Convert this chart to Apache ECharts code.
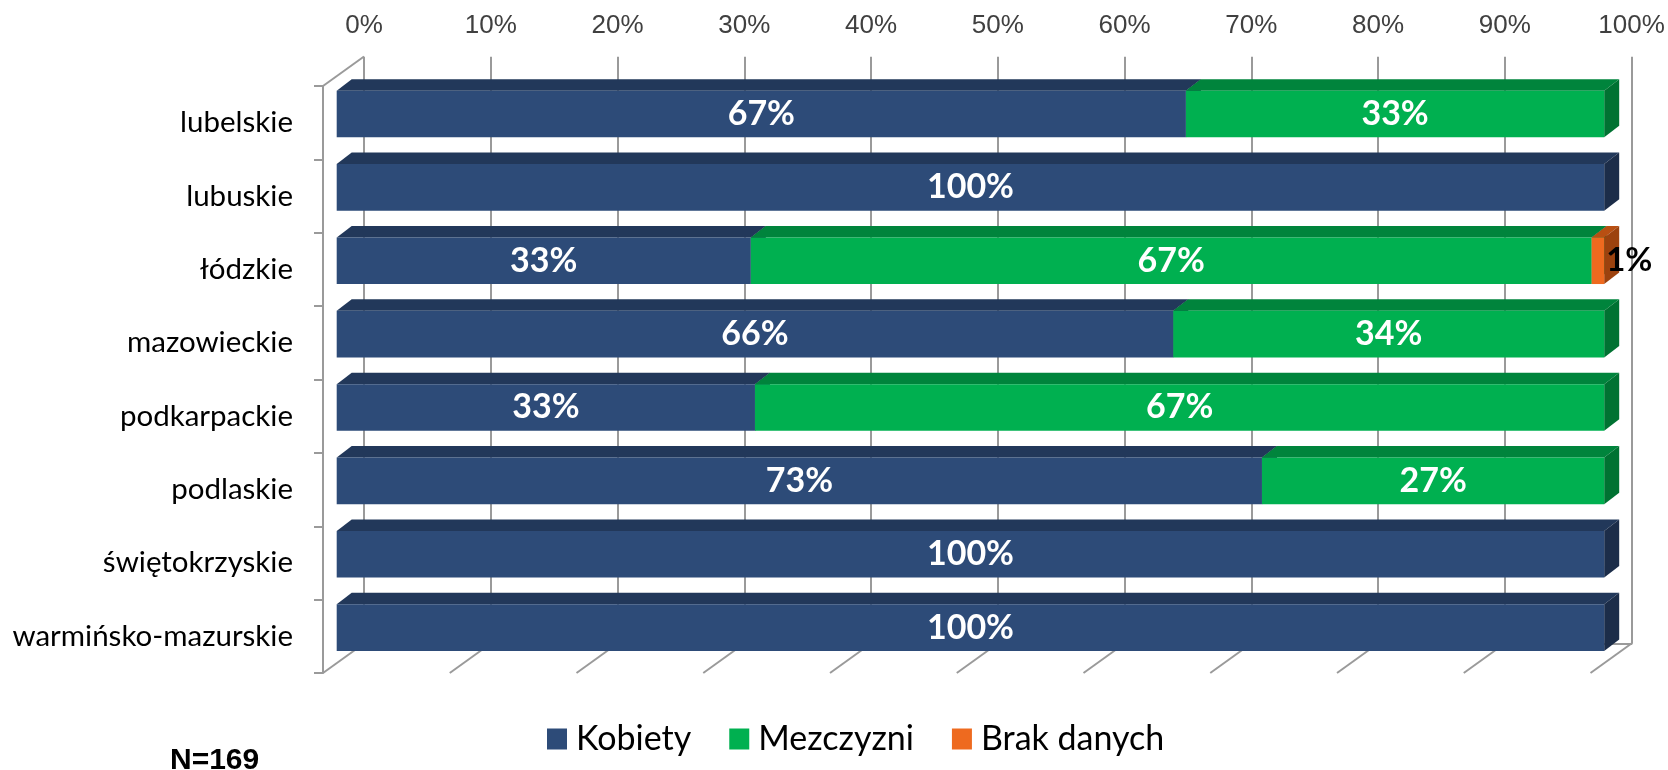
<!DOCTYPE html>
<html>
<head>
<meta charset="utf-8">
<script src="https://cdn.jsdelivr.net/npm/echarts@6/dist/echarts.min.js"></script>
<style>
  html, body { margin: 0; padding: 0; background: #fff; }
  #chart { width: 1668px; height: 770px; }
</style>
</head>
<body>
<div id="chart"></div>
<script>
const categories = ['lubelskie', 'lubuskie', 'łódzkie', 'mazowieckie', 'podkarpackie', 'podlaskie', 'świętokrzyskie', 'warmińsko-mazurskie'];
const kobiety = [67, 100, 33, 66, 33, 73, 100, 100];
const mezczyzni = [33, 0, 67, 34, 67, 27, 0, 0];
const brakDanych = [0, 0, 1, 0, 0, 0, 0, 0];
const seriesNames = ['Kobiety', 'Mezczyzni', 'Brak danych'];
const floorTicks = [0, 10, 20, 30, 40, 50, 60, 70, 80, 90, 100];

// kolory: przod, gora, bok
const palette = [
  ['#2d4b78', '#22385a', '#1c2d49'],
  ['#00b050', '#00843c', '#007232'],
  ['#ee6a1f', '#b84f12', '#9c420e']
];

// glebokosc "3D"
const WALL_DX = 41, WALL_DY = 29.5;
const FX = 13.7, FY = -8.7;
const BAR_DX = 15, BAR_DY = 11.5;
const GRAY = '#9a9a9a';

// 100% stacked - normalizacja
const raw = [kobiety, mezczyzni, brakDanych];
const totals = categories.map((c, i) => kobiety[i] + mezczyzni[i] + brakDanych[i]);
const stacked = raw.map(() => []);
categories.forEach((c, i) => {
  let acc = 0;
  raw.forEach((arr, s) => {
    const start = acc / totals[i] * 100;
    acc += arr[i];
    const end = acc / totals[i] * 100;
    stacked[s].push([start, end, i, arr[i]]);
  });
});

function barRenderer(colors, outsideLabel) {
  return function (params, api) {
    const v = api.value(3);
    if (!v) return null;
    const s = api.coord([api.value(0), api.value(2)]);
    const e = api.coord([api.value(1), api.value(2)]);
    const band = api.size([0, 1])[1];
    const h = band * 0.635;
    const x0 = s[0] + FX, x1 = e[0] + FX;
    const yc = s[1] + FY, yT = yc - h / 2, yB = yc + h / 2;
    const children = [
      { type: 'polygon', shape: { points: [[x0, yT], [x1, yT], [x1 + BAR_DX, yT - BAR_DY], [x0 + BAR_DX, yT - BAR_DY]] }, style: { fill: colors[1] } },
      { type: 'polygon', shape: { points: [[x1, yT], [x1 + BAR_DX, yT - BAR_DY], [x1 + BAR_DX, yB - BAR_DY], [x1, yB]] }, style: { fill: colors[2] } },
      { type: 'rect', shape: { x: x0, y: yT, width: x1 - x0, height: h }, style: { fill: colors[0] } }
    ];
    if (outsideLabel) {
      children.push({ type: 'text', z2: 10, style: { text: v + '%', x: x1 + 2, y: yc, align: 'left', verticalAlign: 'middle', fill: '#000', font: 'bold 33px Lato' } });
    } else {
      children.push({ type: 'text', z2: 10, style: { text: v + '%', x: (x0 + x1) / 2, y: yc, align: 'center', verticalAlign: 'middle', fill: '#fff', font: 'bold 34px Lato' } });
    }
    return { type: 'group', children: children };
  };
}

const barSeries = stacked.map((data, s) => ({
  name: seriesNames[s],
  type: 'custom',
  xAxisIndex: 1,
  yAxisIndex: 1,
  z: 5,
  itemStyle: { color: palette[s][0] },
  renderItem: barRenderer(palette[s], s === 2),
  encode: { x: [0, 1], y: 2 },
  data: data
}));

const floorSeries = {
  type: 'custom',
  xAxisIndex: 1,
  yAxisIndex: 1,
  z: 1,
  silent: true,
  renderItem: function (params, api) {
    const p = api.coord([api.value(0), 0]);
    const yBot = params.coordSys.y + params.coordSys.height;
    const yTop = params.coordSys.y;
    const lines = [
      { type: 'line', shape: { x1: p[0], y1: yBot, x2: p[0] + WALL_DX, y2: yBot - WALL_DY }, style: { stroke: GRAY, lineWidth: 2 } }
    ];
    if (api.value(0) === 0) {
      lines.push({ type: 'line', shape: { x1: p[0], y1: yTop, x2: p[0] + WALL_DX, y2: yTop - WALL_DY }, style: { stroke: GRAY, lineWidth: 2 } });
    }
    return { type: 'group', children: lines };
  },
  encode: { x: 0 },
  data: floorTicks.map(t => [t])
};

const chart = echarts.init(document.getElementById('chart'));
const option = {
  animation: false,
  grid: [
    { left: 364, top: 56.7, width: 1267.5, height: 586.8 },
    { left: 323, top: 86, width: 1267.5, height: 587 }
  ],
  xAxis: [
    {
      gridIndex: 0, type: 'value', min: 0, max: 100, interval: 10, position: 'top',
      axisLine: { show: true, lineStyle: { color: GRAY, width: 2 } },
      axisTick: { show: true, length: 9, lineStyle: { color: GRAY, width: 2 } },
      splitLine: { show: true, lineStyle: { color: GRAY, width: 2 } },
      axisLabel: { formatter: '{value}%', color: '#404040', fontFamily: 'Liberation Sans', fontSize: 26, margin: 18 }
    },
    { gridIndex: 1, type: 'value', min: 0, max: 100, show: false }
  ],
  yAxis: [
    { gridIndex: 0, type: 'value', show: false },
    {
      gridIndex: 1, type: 'category', inverse: true, data: categories,
      axisLine: { show: true, lineStyle: { color: GRAY, width: 2 } },
      axisTick: { show: true, length: 9, lineStyle: { color: GRAY, width: 2 } },
      axisLabel: { color: '#000', fontFamily: 'Lato', fontSize: 29.5, margin: 30 }
    }
  ],
  legend: {
    data: seriesNames,
    left: 542,
    top: 717,
    icon: 'rect',
    itemWidth: 20,
    itemHeight: 21,
    itemGap: 38,
    textStyle: { color: '#000', fontFamily: 'Lato', fontSize: 34, padding: [0, 0, 0, 4] }
  },
  graphic: [
    { type: 'text', left: 170, top: 746, style: { text: 'N=169', font: 'bold 30px "Liberation Sans"', fill: '#000' } }
  ],
  series: [floorSeries].concat(barSeries)
};
chart.setOption(option);
</script>
</body>
</html>
